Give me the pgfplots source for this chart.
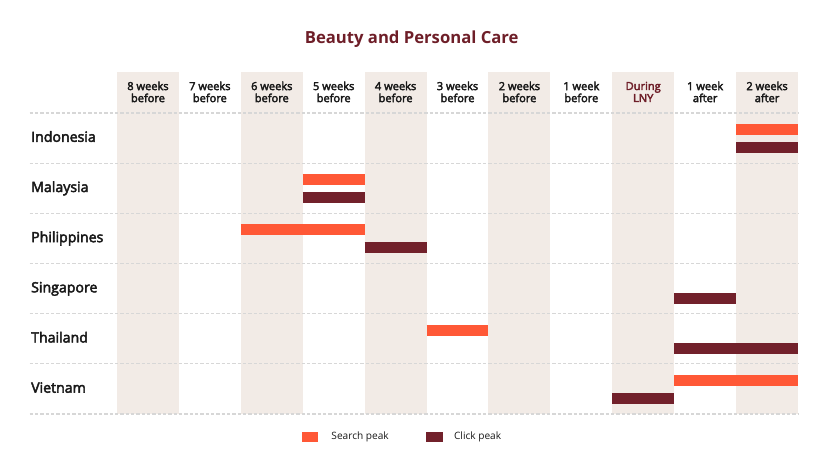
\documentclass[border=0pt]{standalone}
\usepackage{pgfplots}
\pgfplotsset{compat=1.18}
\usepackage{fontspec}
\setmainfont{Open Sans}
\newfontfamily\semib[FakeBold=3.2]{Open Sans}

\definecolor{searchc}{RGB}{255,88,54}
\definecolor{clickc}{RGB}{114,33,43}
\definecolor{titlec}{RGB}{110,30,40}
\definecolor{shadec}{RGB}{242,235,230}
\definecolor{gridc}{RGB}{215,215,215}
\definecolor{textc}{RGB}{25,25,25}

% start = first week column (0 = 8 weeks before), dur = columns, row = country (0 = Indonesia)
\pgfplotstableread{
start dur row
10 1 0.33
3  1 1.33
2  2 2.33
5  1 4.33
9  2 5.33
}\searchpeak
\pgfplotstableread{
start dur row
10 1 0.69
3  1 1.69
4  1 2.69
9  1 3.69
9  2 4.69
8  1 5.69
}\clickpeak

\begin{document}
\begin{tikzpicture}
\useasboundingbox (-87.75pt,84.75pt) rectangle (537.75pt,-265.5pt);
\begin{axis}[
    at={(0,0)}, anchor=north west,
    width=510.75pt, height=225.75pt,
    scale only axis,
    hide axis,
    clip=false,
    xmin=0, xmax=11,
    ymin=0, ymax=6,
    y dir=reverse,
]
% shaded columns
\pgfplotsinvokeforeach{0,2,4,6,8,10}{
  \fill[shadec] (axis cs:#1,-0.82) rectangle (axis cs:#1+1,6);
}
% dashed row lines
\pgfplotsinvokeforeach{0,...,6}{
  \draw[gridc, line width=0.8pt, dash pattern=on 2.5pt off 1.5pt] (axis cs:-1.41,#1) -- (axis cs:11,#1);
}

\addplot[searchc, line width=8.25pt, quiver={u=\thisrow{dur}, v=0}]
  table[x=start, y=row] {\searchpeak};
\addplot[clickc, line width=8.25pt, quiver={u=\thisrow{dur}, v=0}]
  table[x=start, y=row] {\clickpeak};

% title
\node[font=\fontsize{12.5}{15}\selectfont\bfseries, text=titlec] at (axis cs:4.76,-1.47) {Beauty and Personal Care};

% column headers
\pgfplotsforeachungrouped \i/\lab in {0/8 weeks\\before, 1/7 weeks\\before, 2/6 weeks\\before, 3/5 weeks\\before, 4/4 weeks\\before, 5/3 weeks\\before, 6/2 weeks\\before, 7/1 week\\before, 9/1 week\\after, 10/2 weeks\\after}{
  \edef\temp{\noexpand\node[font=\noexpand\fontsize{8.3}{9}\noexpand\selectfont\noexpand\semib, text=textc, align=center] at (axis cs:\i+0.5,-0.42) {\unexpanded\expandafter{\lab}};}
  \temp
}
\node[font=\fontsize{8.3}{9}\selectfont\semib, text=titlec, align=center] at (axis cs:8.5,-0.42) {During\\LNY};

% row labels
\node[font=\fontsize{10.6}{12}\selectfont\semib, text=textc, anchor=base west, inner sep=0pt] at (axis cs:-1.39,0.575) {Indonesia};
\node[font=\fontsize{10.6}{12}\selectfont\semib, text=textc, anchor=base west, inner sep=0pt] at (axis cs:-1.39,1.575) {Malaysia};
\node[font=\fontsize{10.6}{12}\selectfont\semib, text=textc, anchor=base west, inner sep=0pt] at (axis cs:-1.39,2.575) {Philippines};
\node[font=\fontsize{10.6}{12}\selectfont\semib, text=textc, anchor=base west, inner sep=0pt] at (axis cs:-1.39,3.575) {Singapore};
\node[font=\fontsize{10.6}{12}\selectfont\semib, text=textc, anchor=base west, inner sep=0pt] at (axis cs:-1.39,4.575) {Thailand};
\node[font=\fontsize{10.6}{12}\selectfont\semib, text=textc, anchor=base west, inner sep=0pt] at (axis cs:-1.39,5.575) {Vietnam};

% legend
\fill[searchc] (axis cs:2.99,6.35) rectangle (axis cs:3.25,6.55);
\node[font=\fontsize{7.6}{9}\selectfont, text=textc, anchor=west, inner sep=0pt] at (axis cs:3.46,6.45) {Search peak};
\fill[clickc] (axis cs:4.99,6.35) rectangle (axis cs:5.26,6.55);
\node[font=\fontsize{7.6}{9}\selectfont, text=textc, anchor=west, inner sep=0pt] at (axis cs:5.44,6.45) {Click peak};
\end{axis}
\end{tikzpicture}
\end{document}
